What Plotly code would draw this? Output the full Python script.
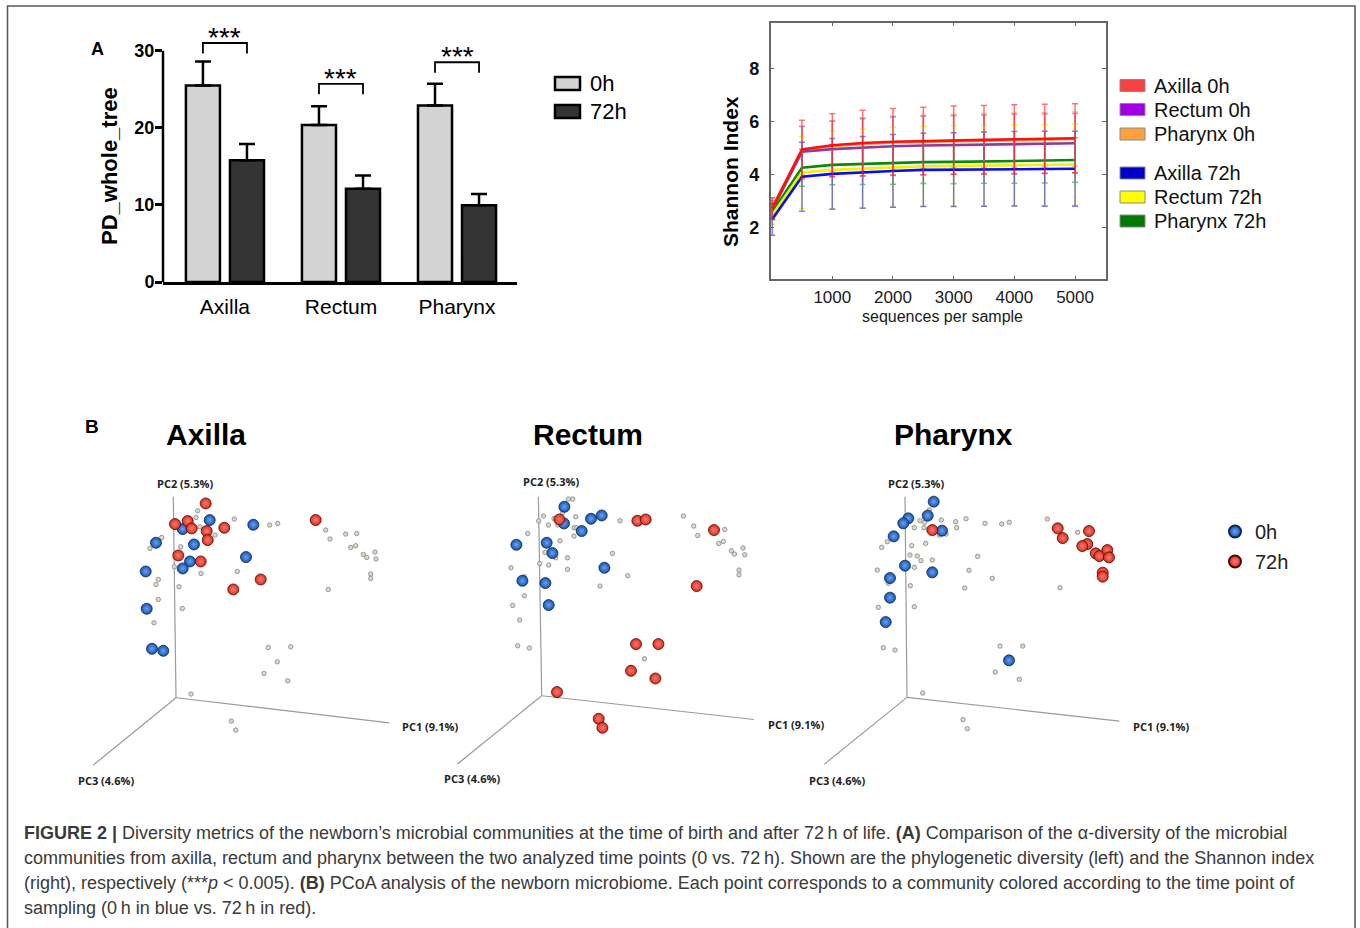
import plotly.graph_objects as go

W, H = 1360, 928
F = "Liberation Sans"
YS = 1.011  # vertical calibration of pixel positions

# ---------------- Panel A (left): phylogenetic diversity ----------------
categories = ["Axilla", "Rectum", "Pharynx"]
pd_0h = [25.5, 20.35, 22.9]
pd_0h_err = [3.1, 2.45, 2.8]
pd_72h = [15.8, 12.1, 9.96]
pd_72h_err = [2.1, 1.7, 1.45]
sig_labels = ["***", "***", "***"]
sig_level = [31.0, 25.7, 28.5]

# ---------------- Panel A (right): Shannon rarefaction ----------------
seqs = [10, 500, 1000, 1500, 2000, 2500, 3000, 3500, 4000, 4500, 5000]
sh_axilla_0h = [2.73, 4.95, 5.11, 5.19, 5.24, 5.27, 5.30, 5.31, 5.33, 5.35, 5.37]
sh_axilla_0h_err = [0.40, 1.10, 1.18, 1.23, 1.25, 1.27, 1.28, 1.29, 1.30, 1.30, 1.30]
sh_rectum_0h = [2.67, 4.86, 4.96, 5.02, 5.07, 5.10, 5.12, 5.14, 5.15, 5.16, 5.18]
sh_rectum_0h_err = [0.35, 0.95, 1.05, 1.08, 1.10, 1.10, 1.10, 1.10, 1.12, 1.12, 1.12]
sh_pharynx_0h = [2.76, 4.92, 5.08, 5.16, 5.21, 5.24, 5.27, 5.28, 5.30, 5.32, 5.34]
sh_pharynx_0h_err = [0.35, 0.90, 0.95, 0.98, 1.00, 1.00, 1.00, 1.02, 1.02, 1.02, 1.02]
sh_axilla_72h = [2.32, 3.92, 4.03, 4.09, 4.14, 4.18, 4.19, 4.21, 4.22, 4.22, 4.22]
sh_axilla_72h_err = [0.60, 1.30, 1.33, 1.35, 1.37, 1.38, 1.39, 1.40, 1.40, 1.41, 1.41]
sh_rectum_72h = [2.48, 4.08, 4.18, 4.23, 4.28, 4.31, 4.33, 4.34, 4.35, 4.36, 4.38]
sh_rectum_72h_err = [0.35, 1.35, 1.45, 1.48, 1.50, 1.50, 1.52, 1.52, 1.53, 1.53, 1.53]
sh_pharynx_72h = [2.60, 4.26, 4.37, 4.41, 4.44, 4.47, 4.48, 4.50, 4.51, 4.52, 4.55]
sh_pharynx_72h_err = [0.30, 0.70, 0.75, 0.78, 0.80, 0.80, 0.82, 0.82, 0.83, 0.83, 0.84]
shannon_names = ["Axilla 0h", "Rectum 0h", "Pharynx 0h", "Axilla 72h", "Rectum 72h", "Pharynx 72h"]

# ---------------- Panel B: PCoA (projected PC1/PC2/PC3 view) ----------------
# projected coordinates of each community in the 3-D PCoA view (origin = axes corner)
axilla_0h = [(33.7, 177.7), (6.7, 168.7), (77.3, 173), (-20, 155), (18, 153.3), (14, 136.3),
             (6.7, 129.3), (70, 140.7), (-30.3, 126.3), (-29.3, 89), (-24, 49), (-12.7, 47)]
axilla_72h = [(29.7, 194.3), (-1, 173.7), (11.7, 176.7), (15.7, 169.3), (30.7, 166.7), (48.3, 170),
              (31.7, 157.7), (2.3, 142.3), (24.7, 136.3), (139.7, 177.7), (84.7, 118.3), (57.3, 108.3)]
axilla_other = [(21.7, 187), (20, 180.3), (58.3, 178.7), (93.7, 172.7), (101.7, 174.3), (-14.3, 160.3),
                (-26, 149.3), (4.7, 151), (25, 124.3), (61.3, 126.3), (-1.7, 131), (-17.7, 118.3),
                (-20, 113.3), (3, 111), (-17.7, 98.3), (6.3, 89.3), (-22, 75), (149.7, 167.7),
                (154, 158.7), (169.7, 163.7), (180.7, 164.3), (174.7, 150.3), (179.7, 152),
                (187.3, 143.3), (190.7, 140.3), (199, 145.7), (200, 138.7), (194.7, 123.7),
                (194.7, 119.3), (152.3, 108.3), (92.3, 50.3), (114.7, 51), (101.3, 36), (88, 24.3),
                (111.7, 17), (15, 3.7), (55.3, -23.3), (59.7, -32.3), (39, 162.7), (24, 171)]

rectum_0h = [(22.7, 189), (22.3, 172.3), (49.3, 177), (60, 180.3), (40, 164.7), (-25.3, 151),
             (5, 153), (10.7, 142.7), (62.7, 128), (-19.3, 115), (3.7, 112.7), (7, 90.7)]
rectum_72h = [(17.7, 176.3), (95.7, 175), (104, 176.3), (172.3, 165.7), (155, 109.7), (94.3, 51.7),
              (116.7, 51.7), (89.3, 25), (113.7, 17.3), (15.3, 3.7), (57, -23), (60.7, -32)]
rectum_other = [(26.7, 196.7), (31, 196.7), (21, 183.3), (34, 179), (1.7, 179.7), (-3, 174.7),
                (6.7, 170.7), (12.3, 177.3), (16.3, 170.7), (32.3, 168), (35, 168), (32.3, 159.7),
                (-14, 162.3), (18.3, 155), (3.3, 143.3), (14, 138), (25.7, 138), (-2, 132.3),
                (7, 130.7), (25.7, 126.3), (-30.7, 128), (-17.3, 119), (70.7, 142.3), (58.3, 109.7),
                (86, 120), (78.3, 175), (141.7, 179.7), (152, 169.7), (156, 160.3), (183, 166.3),
                (177, 152.3), (181.7, 154.3), (189.7, 145), (192.7, 141.7), (201.3, 147.7),
                (203, 141), (197.3, 125.7), (197.3, 121), (-17.3, 100), (-29, 90.3), (-22, 75.7),
                (-24, 50), (-12.3, 47.7), (102.7, 37)]

pharynx_0h = [(26.7, 195.7), (20.7, 181.7), (1.3, 179), (-3.7, 174), (-13.3, 161), (35, 166.7),
              (-2, 131.7), (25.3, 125), (-17, 119.3), (-17, 99.7), (-21.3, 75.3), (102, 37)]
pharynx_72h = [(25.3, 167.3), (150.7, 169), (155.7, 159.3), (182, 166.3), (180.3, 153.3),
               (175.3, 151.3), (188.7, 144), (192.3, 141.3), (200.3, 147.3), (202, 140),
               (195.7, 124.7), (195.7, 120.7)]
pharynx_other = [(22.3, 187.3), (13, 176.7), (17.7, 175), (34.3, 177.3), (48.7, 175.7), (49.7, 169.7),
                 (59, 178.7), (78, 174), (94.7, 173.3), (102.3, 175), (140.3, 178.3), (170.7, 165),
                 (7.3, 169.7), (17, 169.7), (32.3, 162.3), (39, 163.3), (-19.7, 155.7), (-25.3, 150),
                 (18.7, 154), (4.7, 151.7), (3, 142.3), (10.3, 141.3), (14, 136.7), (25.3, 137.3),
                 (7.3, 130), (-29.7, 127.3), (70.7, 141), (62, 127), (85.3, 119), (57.7, 109.3),
                 (153, 109.7), (3.3, 111.7), (-18.7, 114), (-28.7, 90), (7.3, 90.7), (-23.7, 49.7),
                 (-12, 47.3), (93, 51.3), (115.7, 51.3), (88.3, 25.3), (112.3, 18), (15.7, 4.3),
                 (56, -22.3), (60.3, -31.3)]

# projected end points of the PC axes in each view
axes_axilla = {"PC1": (213.3, -25), "PC2": (-2.7, 201), "PC3": (-82.7, -67.3)}
axes_rectum = {"PC1": (212.3, -23.7), "PC2": (-3.3, 199), "PC3": (-84.3, -68.3)}
axes_pharynx = {"PC1": (212.3, -23.7), "PC2": (-2, 200.7), "PC3": (-83, -67)}
pc_labels = {"PC1": "PC1 (9.1%)", "PC2": "PC2 (5.3%)", "PC3": "PC3 (4.6%)"}


def Y(py):
    return py * YS


def xdom(a, b):
    return [a / W, b / W]


def ydom(top, bot):
    return [1 - Y(bot) / H, 1 - Y(top) / H]


def yp(py):
    return 1 - Y(py) / H


fig = go.Figure()

# ---------- bars ----------
bar_line = dict(color="black", width=2.5)
fig.add_trace(go.Bar(x=categories, y=pd_0h, name="0h", xaxis="x", yaxis="y",
                     marker=dict(color="#d3d3d3", line=bar_line), showlegend=False,
                     error_y=dict(type="data", array=pd_0h_err, arrayminus=[0] * 3, symmetric=False,
                                  thickness=2.5, width=8, color="black")))
fig.add_trace(go.Bar(x=categories, y=pd_72h, name="72h", xaxis="x", yaxis="y",
                     marker=dict(color="#333333", line=bar_line), showlegend=False,
                     error_y=dict(type="data", array=pd_72h_err, arrayminus=[0] * 3, symmetric=False,
                                  thickness=2.5, width=8, color="black")))

# ---------- Shannon lines ----------
sh_series = [
    ("Pharynx 0h", sh_pharynx_0h, sh_pharynx_0h_err, "#ff9a3a", "rgba(255,154,58,0.6)"),
    ("Rectum 0h", sh_rectum_0h, sh_rectum_0h_err, "#8e3a9e", "rgba(170,60,200,0.55)"),
    ("Pharynx 72h", sh_pharynx_72h, sh_pharynx_72h_err, "#0a8a0a", "rgba(20,150,20,0.55)"),
    ("Rectum 72h", sh_rectum_72h, sh_rectum_72h_err, "#f2f200", "rgba(235,235,0,0.75)"),
    ("Axilla 72h", sh_axilla_72h, sh_axilla_72h_err, "#0a0aff", "rgba(40,40,255,0.6)"),
    ("Axilla 0h", sh_axilla_0h, sh_axilla_0h_err, "#ff1010", "rgba(255,40,40,0.65)"),
]
for name, vals, err, col, ecol in sh_series:
    fig.add_trace(go.Scatter(x=seqs, y=vals, name=name, mode="lines", xaxis="x2", yaxis="y2",
                             line=dict(color=col, width=2.6), showlegend=False,
                             error_y=dict(type="data", array=err, color=ecol, thickness=1.5, width=3)))

# ---------- PCoA ----------
BLUE = dict(color="#1654b4", gradient=dict(type="radial", color="#6aa4ee"),
            line=dict(color="#0b2556", width=0.8), size=11)
RED = dict(color="#d61c1c", gradient=dict(type="radial", color="#ff8080"),
           line=dict(color="#4a0808", width=0.8), size=11)
GRAY = dict(color="#d9d9c9", line=dict(color="#6a6a6a", width=0.6), size=4.5)

panels = [
    ("x3", "y3", axes_axilla, axilla_other, axilla_0h, axilla_72h, True),
    ("x4", "y4", axes_rectum, rectum_other, rectum_0h, rectum_72h, False),
    ("x5", "y5", axes_pharynx, pharynx_other, pharynx_0h, pharynx_72h, False),
]
for xa, ya, axes_end, other, p0, p72, leg in panels:
    for key in ["PC1", "PC2", "PC3"]:
        ex, ey = axes_end[key]
        fig.add_trace(go.Scatter(x=[0, ex], y=[0, ey], mode="lines", xaxis=xa, yaxis=ya,
                                 line=dict(color="#9a9a9a", width=1.2), showlegend=False,
                                 hoverinfo="skip"))
    fig.add_trace(go.Scatter(x=[p[0] for p in other], y=[p[1] for p in other], mode="markers",
                             xaxis=xa, yaxis=ya, marker=GRAY, showlegend=False))
    fig.add_trace(go.Scatter(x=[p[0] for p in p0], y=[p[1] for p in p0], mode="markers",
                             name="0h", legendgroup="g0", xaxis=xa, yaxis=ya, marker=BLUE,
                             showlegend=leg))
    fig.add_trace(go.Scatter(x=[p[0] for p in p72], y=[p[1] for p in p72], mode="markers",
                             name="72h", legendgroup="g72", xaxis=xa, yaxis=ya,
                             marker=dict(RED, color="#dd2a10"), showlegend=leg))

# ---------- layout ----------
px_per_unit = (282 - 50.7) / 30.0
layout = dict(
    width=W, height=H, margin=dict(l=0, r=0, t=0, b=0),
    paper_bgcolor="white", plot_bgcolor="white",
    font=dict(family=F, color="black"),
    barmode="group", bargap=0.241, bargroupgap=0.227,
    xaxis=dict(domain=xdom(163, 517), range=[-0.534, 2.517], type="category", anchor="y",
               showline=True, linecolor="black", linewidth=2.5, ticks="", showgrid=False,
               zeroline=False, tickfont=dict(size=21, family=F, color="black"),
               ticklabelstandoff=4),
    yaxis=dict(domain=ydom(282 - 33 * px_per_unit, 282), range=[0, 33], anchor="x",
               showline=False, ticks="outside", ticklen=7, tickwidth=2.5, tickcolor="black",
               tickvals=[0, 10, 20, 30], showgrid=False, zeroline=False, ticklabelstandoff=-3,
               tickfont=dict(size=18, family=F, color="black", weight="bold")),
    xaxis2=dict(domain=xdom(770.7, 1105.7), range=[-15, 5505], anchor="y2",
                showline=True, mirror="ticks", linecolor="#666666", linewidth=1.5,
                ticks="inside", ticklen=4, tickcolor="#666666", tickwidth=1.2,
                tickvals=[1000, 2000, 3000, 4000, 5000], showgrid=False, zeroline=False,
                tickfont=dict(size=17, family=F, color="#1a1a1a"), ticklabelstandoff=2),
    yaxis2=dict(domain=ydom(22.7, 279.3), range=[0.06, 9.72], anchor="x2",
                showline=True, mirror="ticks", linecolor="#666666", linewidth=1.5,
                ticks="inside", ticklen=4, tickcolor="#666666", tickwidth=1.2,
                tickvals=[2, 4, 6, 8], showgrid=False, zeroline=False,
                tickfont=dict(size=18, family=F, color="#111111", weight="bold"),
                ticklabelstandoff=6),
    xaxis3=dict(domain=xdom(70, 470), range=[-106, 294], visible=False, anchor="y3"),
    yaxis3=dict(domain=ydom(470, 800), range=[-102.3, 227.7], visible=False, anchor="x3"),
    xaxis4=dict(domain=xdom(436, 836), range=[-105.7, 294.3], visible=False, anchor="y4"),
    yaxis4=dict(domain=ydom(470, 800), range=[-104.3, 225.7], visible=False, anchor="x4"),
    xaxis5=dict(domain=xdom(802, 1202), range=[-105, 295], visible=False, anchor="y5"),
    yaxis5=dict(domain=ydom(470, 800), range=[-102.7, 227.3], visible=False, anchor="x5"),
    legend=dict(x=1215 / W, y=yp(512), xanchor="left", yanchor="top",
                font=dict(size=20, family=F, color="#222222"), bgcolor="rgba(0,0,0,0)",
                tracegroupgap=1, itemsizing="constant"),
)

shapes = []
annotations = []

# outer frame
shapes.append(dict(type="rect", xref="paper", yref="paper", x0=7.5 / W, x1=1355 / W,
                   y0=-0.02, y1=1 - 6 / H, line=dict(color="#5a5a5a", width=1.6)))

# y-axis line of the bar chart (0..30)
shapes.append(dict(type="line", xref="paper", yref="y", x0=163 / W, x1=163 / W, y0=0, y1=30,
                   line=dict(color="black", width=2.5)))

# significance brackets
half = 0.5 * (1 - 0.241) / 2  # offset of a grouped bar centre from its category centre
for i, (lab, lev) in enumerate(zip(sig_labels, sig_level)):
    x0, x1 = i - half, i + half
    shapes.append(dict(type="path", xref="x", yref="y",
                       path=f"M {x0},{lev - 1.35} L {x0},{lev} L {x1},{lev} L {x1},{lev - 1.35}",
                       line=dict(color="black", width=1.8)))
    annotations.append(dict(x=i, y=lev + 0.7, xref="x", yref="y", text=lab, showarrow=False,
                            font=dict(size=28, family=F, color="black"), yanchor="middle"))

# bar legend
for lab, yc, col in [("0h", 83.5, "#d3d3d3"), ("72h", 111.5, "#333333")]:
    shapes.append(dict(type="rect", xref="paper", yref="paper", x0=555 / W, x1=580 / W,
                       y0=yp(yc + 6.5), y1=yp(yc - 6.5), fillcolor=col,
                       line=dict(color="black", width=2.5)))
    annotations.append(dict(x=588 / W, y=yp(yc), xref="paper", yref="paper", text=lab,
                            xanchor="left", yanchor="middle", showarrow=False,
                            font=dict(size=22, family=F, color="black")))

# Shannon legend
leg_cols = {"Axilla 0h": "#f54242", "Rectum 0h": "#a100e0", "Pharynx 0h": "#ffa040",
            "Axilla 72h": "#0000c8", "Rectum 72h": "#ffff00", "Pharynx 72h": "#007a00"}
for lab, yc in zip(shannon_names, [85.5, 109.5, 134, 173, 197, 221]):
    shapes.append(dict(type="rect", xref="paper", yref="paper", x0=1120 / W, x1=1145 / W,
                       y0=yp(yc + 6), y1=yp(yc - 6), fillcolor=leg_cols[lab],
                       line=dict(color="#8a8a8a", width=1)))
    annotations.append(dict(x=1152 / W, y=yp(yc), xref="paper", yref="paper", text=lab,
                            xanchor="left", yanchor="middle", showarrow=False,
                            font=dict(size=20, family=F, color="#111111")))


def pa(text, x, y, size, bold=False, angle=0, color="black", xanchor="center"):
    annotations.append(dict(x=x / W, y=yp(y), xref="paper", yref="paper",
                            text=f"<b>{text}</b>" if bold else text, showarrow=False,
                            textangle=angle, xanchor=xanchor, yanchor="middle",
                            font=dict(size=size, family=F, color=color)))


pa("A", 97, 48.5, 18, bold=True)
pa("PD_whole_tree", 109, 166, 22, bold=True, angle=-90)
pa("Shannon Index", 730, 172, 21, bold=True, angle=-90)
pa("sequences per sample", 942, 316.5, 16, color="#1a1a1a")
pa("B", 92, 426, 19, bold=True)
pa("Axilla", 206, 434, 30, bold=True)
pa("Rectum", 588, 434, 30, bold=True)
pa("Pharynx", 954, 434, 30, bold=True)

# PC axis labels
lab_off = {"PC1": (254, -29), "PC2": (9, 214), "PC3": (-70, -83)}
for xa, ya in [("x3", "y3"), ("x4", "y4"), ("x5", "y5")]:
    for key, (ox, oy) in lab_off.items():
        annotations.append(dict(x=ox, y=oy, xref=xa, yref=ya, text=f"<b>{pc_labels[key]}</b>",
                                showarrow=False, font=dict(size=11, family="Open Sans",
                                                           color="#222222")))

# caption
cap = [
    "<b>FIGURE 2 |</b> Diversity metrics of the newborn\u2019s microbial communities at the time of birth "
    "and after 72\u2009h of life. <b>(A)</b> Comparison of the \u03b1-diversity of the microbial",
    "communities from axilla, rectum and pharynx between the two analyzed time points (0 vs. 72\u2009h). "
    "Shown are the phylogenetic diversity (left) and the Shannon index",
    "(right), respectively (***<i>p</i> &lt; 0.005). <b>(B)</b> PCoA analysis of the newborn microbiome. "
    "Each point corresponds to a community colored according to the time point of",
    "sampling (0\u2009h in blue vs. 72\u2009h in red).",
]
for k, line in enumerate(cap):
    pa(line, 22, 833 + 25 * k, 18.0, color="#3a3a3a", xanchor="left")

layout["shapes"] = shapes
layout["annotations"] = annotations
fig.update_layout(**layout)
fig.write_html("out.html", config={"displayModeBar": False},
               post_script="document.body.style.margin='0px';document.body.style.overflow='hidden';")
